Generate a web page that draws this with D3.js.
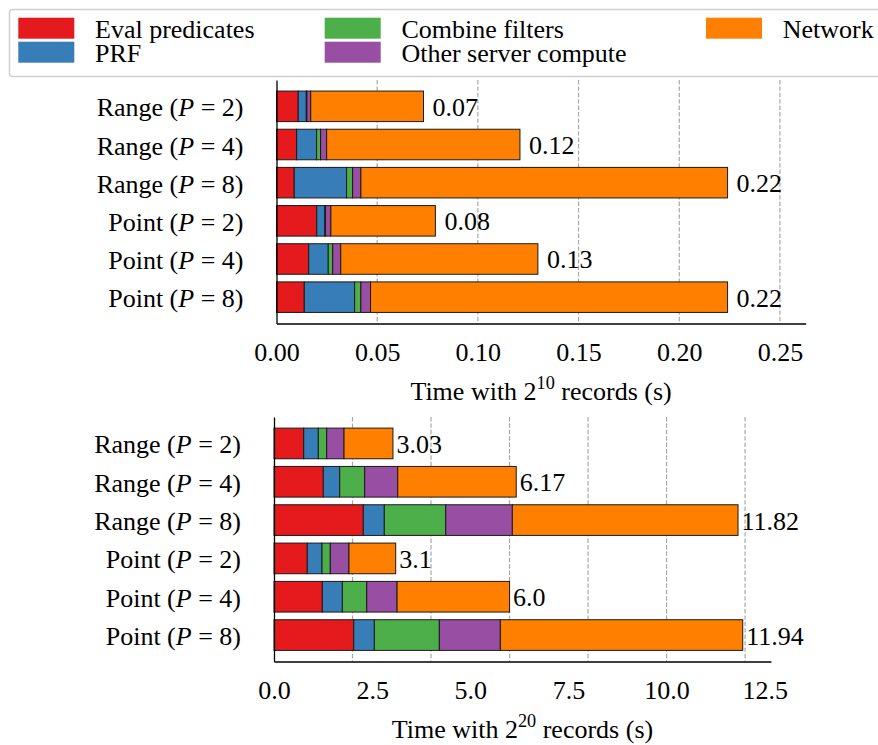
<!DOCTYPE html>
<html>
<head>
<meta charset="utf-8">
<script src="https://cdn.jsdelivr.net/npm/d3@7/dist/d3.min.js"></script>
<style>
  html, body { margin: 0; padding: 0; background: #fff; }
  svg { display: block; }
  text { font-family: "Liberation Serif", "Times New Roman", serif; fill: #000; }
</style>
</head>
<body>
<svg id="chart" width="878" height="745"></svg>
<script>
// ---------- data ----------
const categories = ["Range (P = 2)", "Range (P = 4)", "Range (P = 8)",
                    "Point (P = 2)", "Point (P = 4)", "Point (P = 8)"];
const seriesNames = ["Eval predicates", "PRF", "Combine filters", "Other server compute", "Network"];

// 2^10 records (seconds)
const evalSmall    = [0.0108, 0.0100, 0.0088, 0.0200, 0.0160, 0.0138];
const prfSmall     = [0.0040, 0.0099, 0.0260, 0.0040, 0.0097, 0.0250];
const combineSmall = [0.0003, 0.0020, 0.0030, 0.0003, 0.0022, 0.0031];
const otherSmall   = [0.0019, 0.0030, 0.0041, 0.0027, 0.0040, 0.0048];
const networkSmall = [0.0560, 0.0960, 0.1821, 0.0519, 0.0979, 0.1773];

// 2^20 records (seconds)
const evalLarge    = [0.757, 1.256, 2.275, 0.848, 1.231, 2.031];
const prfLarge     = [0.372, 0.418, 0.535, 0.375, 0.510, 0.525];
const combineLarge = [0.214, 0.637, 1.564, 0.211, 0.622, 1.656];
const otherLarge   = [0.441, 0.841, 1.697, 0.476, 0.772, 1.554];
const networkLarge = [1.246, 3.018, 5.749, 1.190, 2.865, 6.174];

const ticksSmall = [0, 0.05, 0.10, 0.15, 0.20, 0.25];
const gridSmall  = [0.05, 0.10, 0.15, 0.20, 0.25];
const ticksLarge = [0, 2.5, 5.0, 7.5, 10.0, 12.5];
const gridLarge  = [2, 4, 6, 8, 10, 12];

const colors = ["#e41a1c", "#377eb8", "#4daf4a", "#984ea3", "#ff7f00"];

// ---------- helpers ----------
const FS = 26;
const svg = d3.select("#chart");

function pyRound2(v) {
  const n = Number(v.toFixed(2));
  return Number.isInteger(n) ? n.toFixed(1) : String(n);
}

function drawPanel(cfg) {
  const seriesArrays = cfg.series;
  const rows = categories.map((c, i) => {
    const o = { cat: c };
    seriesNames.forEach((s, j) => { o[s] = seriesArrays[j][i]; });
    return o;
  });
  const stacked = d3.stack().keys(seriesNames)(rows);

  const x = d3.scaleLinear().domain([0, cfg.xmax]).range([cfg.x0, cfg.x1]);
  const y = d3.scaleBand().domain(categories).range([cfg.y0, cfg.y1])
              .paddingInner(0.2).paddingOuter(0.29);

  const g = svg.append("g");

  // grid lines
  g.append("g").selectAll("line").data(cfg.grid).join("line")
    .attr("x1", d => x(d)).attr("x2", d => x(d))
    .attr("y1", cfg.y0).attr("y2", cfg.y1)
    .attr("stroke", "#a8a8a8").attr("stroke-width", 1.2)
    .attr("stroke-dasharray", "4.4,2");

  // bars
  g.append("g").selectAll("g").data(stacked).join("g")
    .attr("fill", (d, i) => colors[i])
    .selectAll("rect").data(d => d).join("rect")
      .attr("x", d => x(d[0]))
      .attr("width", d => Math.max(0, x(d[1]) - x(d[0])))
      .attr("y", d => y(d.data.cat))
      .attr("height", y.bandwidth())
      .attr("stroke", "#1a1a1a").attr("stroke-width", 1);

  // value labels
  g.append("g").selectAll("text").data(rows).join("text")
    .attr("x", d => x(d3.sum(seriesNames, s => d[s])) + cfg.labelGap)
    .attr("y", d => y(d.cat) + y.bandwidth() / 2 + 9.5)
    .attr("font-size", FS)
    .text(d => pyRound2(d3.sum(seriesNames, s => d[s])));

  // bottom axis
  const xa = g.append("g").attr("transform", `translate(0,${cfg.y1})`)
    .call(d3.axisBottom(x).tickValues(cfg.ticks).tickSize(0).tickSizeOuter(0)
          .tickFormat(d => d.toFixed(cfg.dec)));
  xa.select(".domain").attr("stroke", "#000").attr("stroke-width", 1.3);
  xa.selectAll("text").attr("font-size", FS).attr("font-family", null)
    .attr("y", 37).attr("dy", 0);
  xa.attr("font-family", null);

  // left axis
  const ya = g.append("g").attr("transform", `translate(${cfg.x0},0)`)
    .call(d3.axisLeft(y).tickSize(0).tickSizeOuter(0).tickPadding(33));
  ya.attr("font-family", null);
  ya.select(".domain").attr("stroke", "#000").attr("stroke-width", 1.3);
  ya.selectAll("text").attr("font-size", FS).attr("dy", 10)
    .each(function(d) {
      const t = d3.select(this);
      const m = d.match(/^(.*\()P( = .*)$/);
      t.text(null);
      t.append("tspan").text(m[1]);
      t.append("tspan").attr("font-style", "italic").text("P");
      t.append("tspan").text(m[2]);
    });

  // axis title
  const title = g.append("text")
    .attr("x", (cfg.x0 + cfg.x1) / 2).attr("y", cfg.y1 + 76)
    .attr("text-anchor", "middle").attr("font-size", FS);
  title.append("tspan").text("Time with 2");
  title.append("tspan").attr("font-size", FS * 0.7).attr("dy", -11).text(cfg.exp);
  title.append("tspan").attr("dy", 11).text(" records (s)");
}

drawPanel({
  series: [evalSmall, prfSmall, combineSmall, otherSmall, networkSmall],
  xmax: 0.2628, x0: 276.5, x1: 805.7, y0: 80, y1: 323.5,
  ticks: ticksSmall, grid: gridSmall, dec: 2, exp: "10", labelGap: 9
});

drawPanel({
  series: [evalLarge, prfLarge, combineLarge, otherLarge, networkLarge],
  xmax: 12.66, x0: 274, x1: 771, y0: 417, y1: 661.5,
  ticks: ticksLarge, grid: gridLarge, dec: 1, exp: "20", labelGap: 3.5
});

// ---------- legend ----------
const leg = svg.append("g");
leg.append("rect").attr("x", 9.5).attr("y", 9.5).attr("width", 900).attr("height", 67)
  .attr("rx", 3).attr("fill", "#fff").attr("stroke", "#d0d0d0").attr("stroke-width", 1.5);
const legX = [18.3, 324.7, 706];
const legY = [17.7, 41.7];
seriesNames.forEach((s, i) => {
  const col = Math.floor(i / 2), row = i % 2;
  leg.append("rect").attr("x", legX[col]).attr("y", legY[row])
    .attr("width", 56).attr("height", 21).attr("fill", colors[i]);
  leg.append("text").attr("x", legX[col] + 76.7).attr("y", legY[row] + 19.8)
    .attr("font-size", FS).text(s);
});
</script>
</body>
</html>
